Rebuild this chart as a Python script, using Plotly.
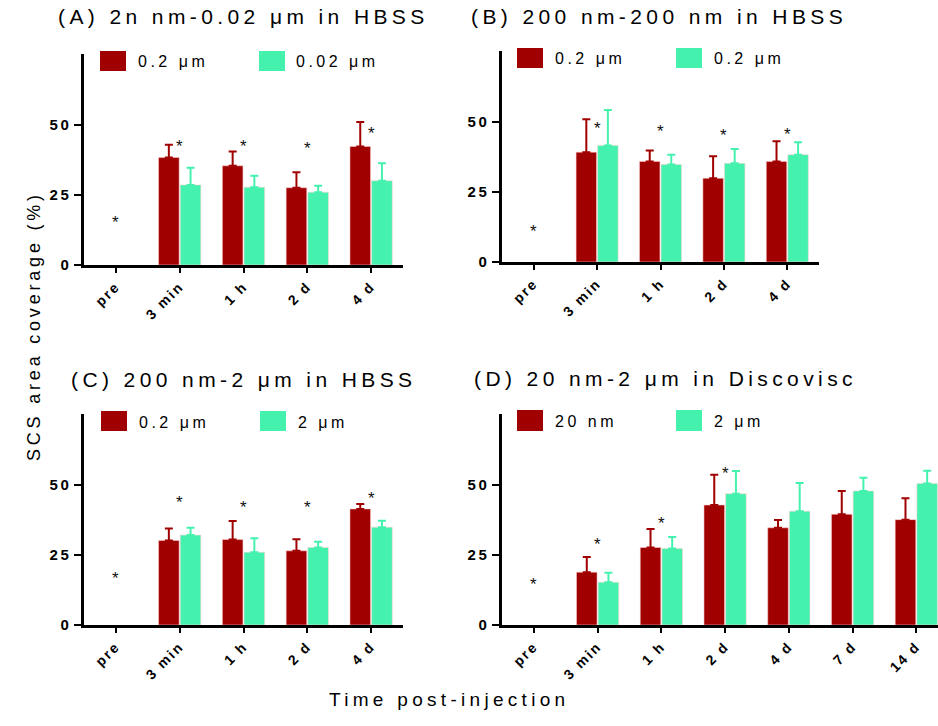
import plotly.graph_objects as go

W, H = 938, 726
RED = "#A00000"
GREEN = "#44F2AE"
FONT = "Arial"

# ---------------- data ----------------
cats_abc = ["pre", "3 min", "1 h", "2 d", "4 d"]
cats_d = ["pre", "3 min", "1 h", "2 d", "4 d", "7 d", "14 d"]

# Panel A: 0.2 um vs 0.02 um in HBSS
a_red = [None, 38.3, 35.3, 27.5, 42.2]
a_red_sd = [None, 4.5, 5.1, 5.5, 8.7]
a_grn = [None, 28.5, 27.7, 25.9, 30.0]
a_grn_sd = [None, 6.1, 4.1, 2.3, 6.2]
a_star = [16.6, 43.5, 43.5, 43.0, 48.2]

# Panel B: 200 nm vs 200 nm in HBSS
b_red = [None, 39.1, 35.8, 29.8, 35.8]
b_red_sd = [None, 11.7, 3.9, 7.8, 7.2]
b_grn = [None, 41.5, 34.7, 35.1, 38.2]
b_grn_sd = [None, 12.6, 3.5, 5.1, 4.4]
b_star = [12.2, 49.0, 47.7, 46.6, 46.8]

# Panel C: 200 nm vs 2 um in HBSS
c_red = [None, 30.1, 30.4, 26.4, 41.3]
c_red_sd = [None, 4.2, 6.6, 4.1, 1.8]
c_grn = [None, 32.0, 25.9, 27.6, 34.8]
c_grn_sd = [None, 2.6, 5.0, 2.0, 2.3]
c_star = [18.1, 44.9, 43.3, 43.3, 46.3]

# Panel D: 20 nm vs 2 um in Discovisc
d_red = [None, 18.8, 27.6, 42.7, 34.6, 39.4, 37.5]
d_red_sd = [None, 5.4, 6.6, 10.8, 2.8, 8.3, 7.6]
d_grn = [None, 15.2, 27.2, 46.7, 40.5, 47.7, 50.4]
d_grn_sd = [None, 3.4, 4.1, 8.1, 10.0, 4.7, 4.5]
d_star = [16.0, 30.2, 37.7, 55.2, None, None, None]

titles = ["(A) 2n nm-0.02 μm in HBSS", "(B) 200 nm-200 nm in HBSS",
          "(C) 200 nm-2 μm in HBSS", "(D) 20 nm-2 μm in Discovisc"]
legend_names = [("0.2 μm", "0.02 μm"), ("0.2 μm", "0.2 μm"),
                ("0.2 μm", "2 μm"), ("20 nm", "2 μm")]
y_ticks = [0, 25, 50]
y_title = "SCS area coverage (%)"
x_title = "Time post-injection"


def px(x):
    return x / W


def py(y):
    return 1 - y / H


def sp(text, ls):
    return f'<span style="letter-spacing:{ls}px">{text}</span>'


panels = [
    dict(cats=cats_abc, r=a_red, rs=a_red_sd, g=a_grn, gs=a_grn_sd, st=a_star,
         xd=(84, 403), y0=265, xr=[-0.5, 4.5]),
    dict(cats=cats_abc, r=b_red, rs=b_red_sd, g=b_grn, gs=b_grn_sd, st=b_star,
         xd=(502, 819), y0=262, xr=[-0.5, 4.5]),
    dict(cats=cats_abc, r=c_red, rs=c_red_sd, g=c_grn, gs=c_grn_sd, st=c_star,
         xd=(84, 403), y0=625, xr=[-0.5, 4.5]),
    dict(cats=cats_d, r=d_red, rs=d_red_sd, g=d_grn, gs=d_grn_sd, st=d_star,
         xd=(502, 938), y0=625, xr=[-0.5, 6.34]),
]
PXU = 2.81  # pixels per y unit
YMAX = 75

fig = go.Figure()
annotations = []
shapes = []

for i, p in enumerate(panels):
    n = "" if i == 0 else str(i + 1)
    xa, ya = "x" + n, "y" + n
    zero = [0 if v is not None else None for v in p["r"]]
    for vals, sds, col in ((p["r"], p["rs"], RED), (p["g"], p["gs"], GREEN)):
        fig.add_trace(go.Bar(
            x=p["cats"], y=vals, xaxis=xa, yaxis=ya,
            marker=dict(color=col, line=dict(color="rgba(255,210,210,0.7)", width=0.8)),
            error_y=dict(type="data", array=sds, arrayminus=zero, symmetric=False,
                         color=col, thickness=2, width=4),
            showlegend=False, hoverinfo="skip",
        ))
    top = p["y0"] - YMAX * PXU
    fig.update_layout({
        "xaxis" + n: dict(domain=[px(p["xd"][0]), px(p["xd"][1])], anchor=ya,
                          automargin=False,
                          type="category", categoryorder="array", categoryarray=p["cats"],
                          tickvals=p["cats"], ticktext=[sp(c, 2) for c in p["cats"]],
                          range=p["xr"], showline=True, linewidth=2.5, linecolor="black",
                          ticks="outside", ticklen=5, tickwidth=2, tickcolor="black",
                          tickangle=-45, showgrid=False, zeroline=False,
                          tickfont=dict(family=FONT, size=14, color="black", weight="bold")),
        "yaxis" + n: dict(domain=[py(p["y0"]), py(top)], anchor=xa, range=[0, YMAX],
                          automargin=False,
                          tickvals=y_ticks, ticktext=[sp(str(t), 2.5) for t in y_ticks],
                          showline=True, linewidth=2.5, linecolor="black",
                          ticks="outside", ticklen=7, tickwidth=2, tickcolor="black",
                          showgrid=False, zeroline=False,
                          tickfont=dict(family=FONT, size=15, color="black", weight="bold")),
    })
    # significance asterisks
    for c, s in zip(p["cats"], p["st"]):
        if s is None:
            continue
        annotations.append(dict(x=c, y=s, xref=xa, yref=ya, text="*", showarrow=False,
                                yshift=-4, font=dict(family=FONT, size=17, color="#111")))

# panel titles
title_pos = [(56, 17), (469, 16), (69, 379), (472, 378)]
for t, (x, y) in zip(titles, title_pos):
    annotations.append(dict(x=px(x), y=py(y), xref="paper", yref="paper", xanchor="left",
                            yanchor="middle", text=sp(t, 4.4), showarrow=False,
                            font=dict(family=FONT, size=21, color="black")))

# legends
leg_pos = [
    ((100, 126), (259, 285), (136, 294), (51, 71)),
    ((517, 543), (676, 702), (553, 712), (48, 68)),
    ((101, 127), (260, 286), (137, 296), (411, 431)),
    ((517, 543), (676, 702), (553, 712), (410, 431)),
]
for (r, g, tx, yy), names in zip(leg_pos, legend_names):
    for (x0, x1), col, name, xt in ((r, RED, names[0], tx[0]), (g, GREEN, names[1], tx[1])):
        shapes.append(dict(type="rect", xref="paper", yref="paper",
                           x0=px(x0), x1=px(x1), y0=py(yy[1]), y1=py(yy[0]),
                           fillcolor=col, line=dict(width=0)))
        annotations.append(dict(x=px(xt), y=py((yy[0] + yy[1]) / 2 + 1), xref="paper",
                                yref="paper", xanchor="left", yanchor="middle",
                                text=sp(name, 3.5), showarrow=False,
                                font=dict(family=FONT, size=16, color="black")))

# global axis titles
annotations.append(dict(x=px(22), y=py(326), xref="paper", yref="paper", textangle=-90,
                        text=sp(y_title, 3.8), showarrow=False,
                        font=dict(family=FONT, size=18, color="black")))
annotations.append(dict(x=px(449), y=py(712), xref="paper", yref="paper",
                        text=sp(x_title, 4.3), showarrow=False,
                        font=dict(family=FONT, size=19, color="black")))

fig.update_layout(
    width=W, height=H, margin=dict(l=0, r=0, t=0, b=0),
    paper_bgcolor="white", plot_bgcolor="white",
    barmode="group", bargap=0.32, bargroupgap=0.05,
    annotations=annotations, shapes=shapes,
)

fig.write_html(
    "out.html",
    config={"displayModeBar": False},
    post_script="document.body.style.margin='0';document.body.style.overflow='hidden';",
)
